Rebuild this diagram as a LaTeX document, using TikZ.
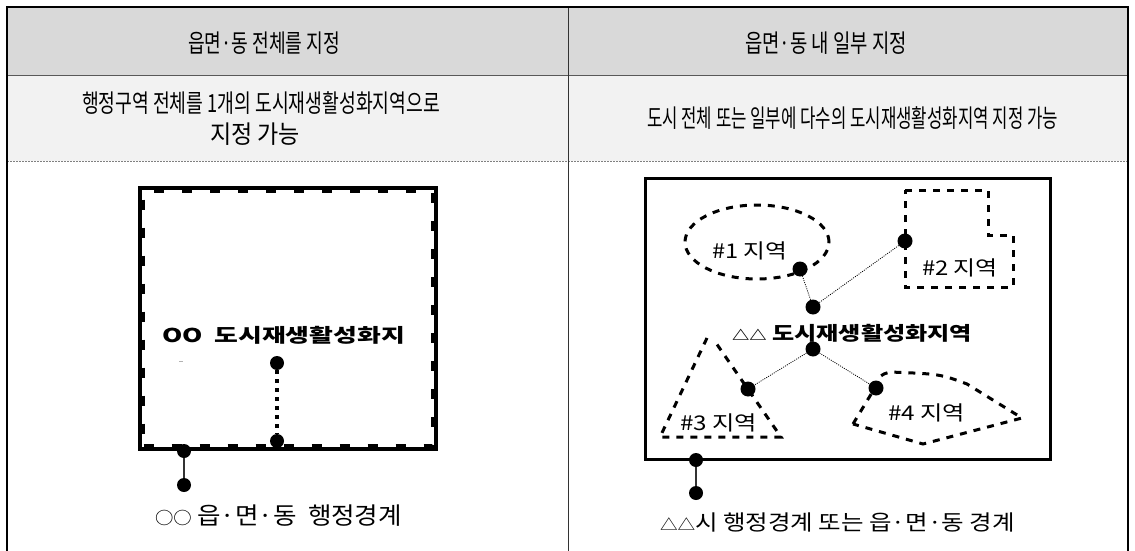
\documentclass[tikz,border=0pt]{standalone}
\usepackage{fontspec}
\usepackage{graphicx}
\newfontfamily\kr{Noto Sans CJK KR}
\newsavebox\tbox
\newcommand{\smsym}[1]{\scalebox{0.72}{#1}}
% name, x, y, width, ink height, text
\newcommand{\txtnode}[6]{%
  \pgfinterruptpicture
  \global\setbox\tbox=\hbox{\kr\fontsize{10pt}{12pt}\selectfont #6}%
  \xdef\tw{\the\wd\tbox}%
  \endpgfinterruptpicture
  \pgfmathsetmacro\sxf{#4/\tw}%
  \pgfmathsetmacro\syf{#5/8.4}%
  \begin{scope}[shift={(#2,#3)}]
    \node[lbl,xscale=\sxf,yscale=\syf,transform shape] (#1) at (0,0) {\usebox\tbox};
  \end{scope}}
\definecolor{hdrgray}{HTML}{D9D9D9}
\definecolor{rowgray}{HTML}{F2F2F2}
\definecolor{linegray}{HTML}{595959}
\begin{document}
\begin{tikzpicture}[x=1pt,y=-1pt,
  dot/.style={circle,fill=black,inner sep=0pt,minimum size=14pt},
  bigdot/.style={dot,minimum size=15pt},
  lbl/.style={inner sep=0pt,anchor=center},
  regdash/.style={line width=3pt,dash pattern=on 7pt off 7pt},
  thindot/.style={line width=0.8pt,dash pattern=on 1pt off 1.2pt},
  sqdash/.style={line width=3.5pt,dash pattern=on 10pt off 18pt},
  frame/.style={line width=2.5pt,black}]
\useasboundingbox (0,0) rectangle (1135,551);
% table backgrounds
\fill[hdrgray] (7,7) rectangle (1128,76);
\fill[rowgray] (7,76) rectangle (1128,161);
\draw[linegray,line width=1pt] (7,76) -- (1128,76);
\draw[gray,line width=1pt,dash pattern=on 1.5pt off 1.5pt] (7,161) -- (1128,161);
\draw[black!80,line width=1.3pt] (568.7,7) -- (568.7,551);
\draw[frame] (7,551) -- (7,7) -- (1128,7) -- (1128,551);
% header texts
\txtnode{h1}{264}{43}{152}{21}{읍면·동 전체를 지정}
\txtnode{h2}{826}{43}{162}{21}{읍면·동 내 일부 지정}
\txtnode{s1}{261}{103.5}{358}{21}{행정구역\ 전체를\ 1개의\ 도시재생활성화지역으로}
\txtnode{s1b}{255}{134.5}{90}{21}{지정\ 가능}
\txtnode{s2}{852.5}{118.5}{411}{21}{도시\ 전체\ 또는\ 일부에\ 다수의\ 도시재생활성화지역\ 지정\ 가능}
% left diagram
\draw[line width=3.5pt] (140,188) rectangle (436,449);
\draw[sqdash] (143.5,445.5) -- (432.5,445.5) -- (432.5,191.5) -- (143.5,191.5) -- cycle;
\txtnode{ltitle}{283.5}{335.5}{243}{16}{\bfseries OO\ \ 도시재생활성화지}
\draw[gray!60,line width=0.8pt] (179,361) -- (183,361);
\node[dot] (lt) at (277,363) {};
\node[dot] (lb) at (277,441) {};
\draw[line width=3.5pt,dash pattern=on 4pt off 5pt] (lt) -- (lb);
\node[dot] (lbd1) at (184,451) {};
\node[dot] (lbd2) at (184,485) {};
\draw[black!80,line width=1.5pt] (lbd1) -- (lbd2);
\txtnode{lcap}{278.5}{516}{247}{20}{\smsym{○}\smsym{○}\ 읍·면·동\ \ 행정경계}
% right diagram
\draw[line width=3.5pt] (645.5,178.5) rectangle (1050.5,459.5);
\draw[regdash] (757,242) ellipse [x radius=72pt, y radius=37pt];
\draw[regdash] (905,190) -- (988,190) -- (988,235) -- (1013,235) -- (1013,287) -- (905,287) -- cycle;
\draw[regdash] (707,338) -- (660,437) -- (781,437) -- (716,343);
\draw[regdash] (853,424) -- (876,386) .. controls (880,375) .. (890,372) .. controls (940,374) .. (967,384) -- (1022,418) -- (923,444) -- cycle;
\txtnode{r1}{749.5}{251}{75}{17}{\#1\ 지역}
\txtnode{r2}{960}{267.5}{76}{17}{\#2\ 지역}
\txtnode{r3}{718.5}{422.5}{77}{17}{\#3\ 지역}
\txtnode{r4}{926.5}{412.5}{77}{17}{\#4\ 지역}
\txtnode{rtitle}{852}{333.5}{240}{16}{\bfseries \smsym{△}\smsym{△}\ 도시재생활성화지역}
\node[bigdot] (d1) at (800,269) {};
\node[bigdot] (d2) at (905,241) {};
\node[bigdot] (ca) at (813,307) {};
\node[bigdot] (cb) at (813,349) {};
\node[bigdot] (d3) at (748,389) {};
\node[bigdot] (d4) at (876,388) {};
\draw[thindot] (ca) -- (d1);
\draw[thindot] (ca) -- (d2);
\draw[thindot] (cb) -- (d3);
\draw[thindot] (cb) -- (d4);
\node[dot] (rbd1) at (696,460) {};
\node[dot] (rbd2) at (696,493) {};
\draw[black!80,line width=1.5pt] (rbd1) -- (rbd2);
\txtnode{rcap}{837.5}{522}{355}{18}{\smsym{△}\smsym{△}시\ 행정경계\ 또는\ 읍·면·동\ 경계}
\end{tikzpicture}
\end{document}
